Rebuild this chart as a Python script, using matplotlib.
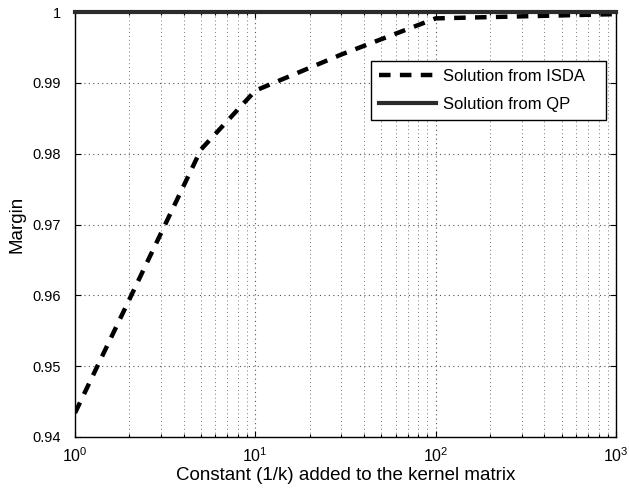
import numpy as np
import matplotlib.pyplot as plt
from matplotlib.ticker import LogLocator, FixedLocator

plt.rcParams['font.family'] = ['Liberation Sans', 'DejaVu Sans']
plt.rcParams['mathtext.fontset'] = 'custom'
plt.rcParams['mathtext.rm'] = 'Liberation Sans'
plt.rcParams['mathtext.it'] = 'Liberation Sans:italic'
plt.rcParams['mathtext.bf'] = 'Liberation Sans:bold'

# valeurs
k_const = [1, 2, 5, 10, 30, 100, 1000]
margin_isda = [0.9434, 0.9594, 0.9806, 0.9889, 0.9940, 0.9991, 0.9997]
margin_qp = [1.0, 1.0]
qp_x = [1, 1000]
y_ticks = [0.94, 0.95, 0.96, 0.97, 0.98, 0.99, 1.0]
y_labels = ['0.94', '0.95', '0.96', '0.97', '0.98', '0.99', '1']
x_ticks = [1, 10, 100, 1000]
x_labels = [r'$\mathregular{10^{0}}$', r'$\mathregular{10^{1}}$',
            r'$\mathregular{10^{2}}$', r'$\mathregular{10^{3}}$']

fig = plt.figure(figsize=(6.29, 4.95), dpi=100)
ax = fig.add_axes([75 / 629, 1 - 437 / 495, 541 / 629, 425 / 495])

# espaces en fin de label : la boite matlab a plus de marge a droite
ax.plot(k_const, margin_isda, color='black', lw=3.2, ls=(0, (2.6, 2.1)),
        label='Solution from ISDA   ', zorder=3)
ax.plot(qp_x, margin_qp, color='#2b2b2b', lw=3.0, label='Solution from QP',
        zorder=4, clip_on=False)

ax.set_xscale('log')
ax.set_xlim(1, 1000)
ax.set_ylim(0.94, 1.0)
ax.yaxis.set_major_locator(FixedLocator(y_ticks))
ax.set_yticklabels(y_labels)
ax.xaxis.set_major_locator(FixedLocator(x_ticks))
ax.set_xticklabels(x_labels)
ax.xaxis.set_minor_locator(LogLocator(base=10, subs=np.arange(2, 10)))
ax.xaxis.set_minor_formatter(plt.NullFormatter())

ax.grid(True, which='major', ls=(0, (1, 3)), color='#555555', lw=0.8)
ax.grid(True, which='minor', axis='x', ls=(0, (1, 3)), color='#777777', lw=0.7)

ax.tick_params(direction='in', which='both', top=True, right=True,
               length=4, width=0.8)
ax.tick_params(which='minor', length=2)
ax.tick_params(axis='y', labelsize=10.5, pad=10)
ax.tick_params(axis='x', labelsize=11.5, pad=7)

for s in ax.spines.values():
    s.set_linewidth(1.0)

ax.set_xlabel('Constant (1/k) added to the kernel matrix', fontsize=13.5,
              labelpad=1)
ax.set_ylabel('Margin', fontsize=13.5, labelpad=5)

leg = ax.legend(loc='upper right', bbox_to_anchor=(0.982, 0.885), fontsize=12,
                fancybox=False, framealpha=1, edgecolor='black',
                handlelength=3.4, handletextpad=0.42, borderpad=0.5,
                labelspacing=0.75, borderaxespad=0)
leg.get_frame().set_linewidth(1.0)

fig.savefig('out.png', dpi=100)
